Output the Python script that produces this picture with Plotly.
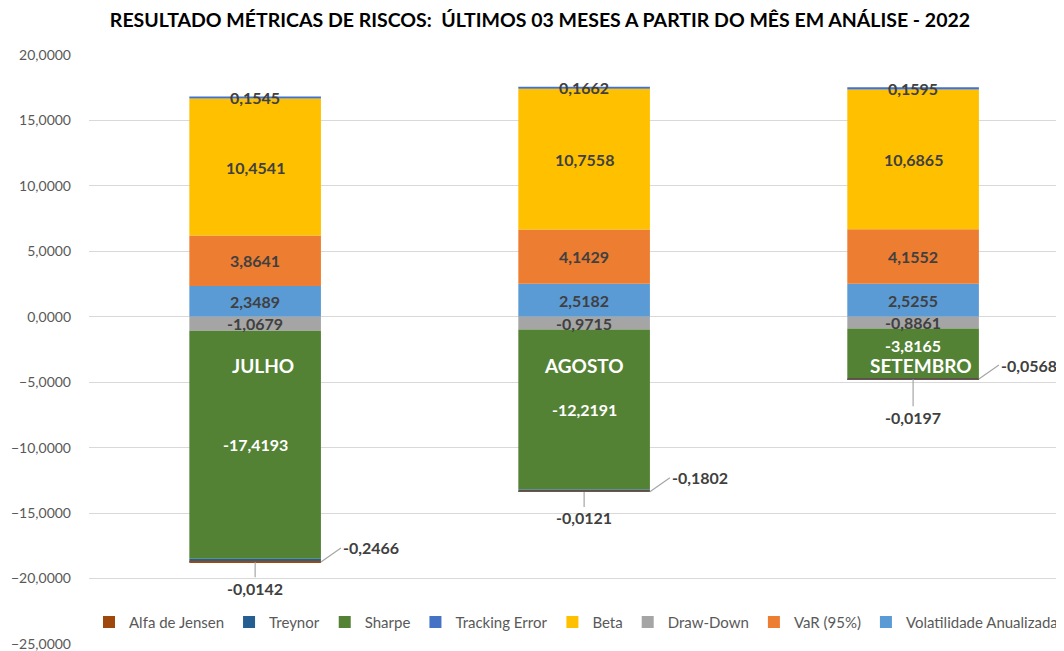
import plotly.graph_objects as go

# dados
meses = ["JULHO", "AGOSTO", "SETEMBRO"]
volatilidade = [2.3489, 2.5182, 2.5255]
var95 = [3.8641, 4.1429, 4.1552]
draw_down = [-1.0679, -0.9715, -0.8861]
beta = [10.4541, 10.7558, 10.6865]
tracking_error = [0.1545, 0.1662, 0.1595]
sharpe = [-17.4193, -12.2191, -3.8165]
treynor = [-0.2466, -0.1802, -0.0568]
alfa_jensen = [-0.0142, -0.0121, -0.0197]

y_ticks = [-25, -20, -15, -10, -5, 0, 5, 10, 15, 20]

# ordem de empilhamento (a legenda mostra a ordem inversa)
series = [
    ("Volatilidade Anualizada", volatilidade, "#5B9BD5"),
    ("VaR (95%)", var95, "#ED7D31"),
    ("Draw-Down", draw_down, "#A5A5A5"),
    ("Beta", beta, "#FFC000"),
    ("Tracking Error", tracking_error, "#4472C4"),
    ("Sharpe", sharpe, "#548235"),
    ("Treynor", treynor, "#255E91"),
    ("Alfa de Jensen", alfa_jensen, "#9E480E"),
]

FONT = "Lato, 'Open Sans', sans-serif"
DARK = "#404040"


def fmt(v):
    return f"{v:.4f}".replace(".", ",")


fig = go.Figure()
for name, vals, color in series:
    fig.add_trace(go.Bar(
        x=meses, y=vals, name=name,
        marker_color=color, marker_line_width=0,
        width=0.4,
        hovertemplate=name + ": %{y:.4f}<extra></extra>",
    ))

# rótulos de dados
annotations = []
pos_base = [0.0] * len(meses)
neg_base = [0.0] * len(meses)
for name, vals, color in series:
    for i, v in enumerate(vals):
        if v >= 0:
            mid = pos_base[i] + v / 2
            pos_base[i] += v
            edge = pos_base[i]
        else:
            mid = neg_base[i] + v / 2
            neg_base[i] += v
            edge = neg_base[i]
        lab = dict(text="<b>" + fmt(v) + "</b>", showarrow=False,
                   font=dict(family=FONT, size=16, color=DARK))
        if name == "Treynor":
            lab.update(x=i + 0.2, y=edge, showarrow=True, arrowhead=0,
                       arrowwidth=1.2, arrowcolor="#A6A6A6",
                       ax=20, ay=-14, xanchor="left")
        elif name == "Alfa de Jensen":
            lab.update(x=i, y=edge, showarrow=True, arrowhead=0,
                       arrowwidth=1.2, arrowcolor="#A6A6A6",
                       ax=0, ay=26 if i < 2 else 38)
        else:
            lab.update(x=i, y=mid)
            if name == "Sharpe":
                lab["font"]["color"] = "white"
                if meses[i] == "SETEMBRO":
                    lab["yshift"] = 8
        annotations.append(lab)

# nomes dos meses dentro das barras
for i, m in enumerate(meses):
    annotations.append(dict(
        x=i, y=-3.75, text="<b>" + m + "</b>", showarrow=False,
        xshift=8 if i != 1 else 0,
        font=dict(family=FONT, size=19, color="white"),
    ))

fig.update_layout(
    width=1064, height=651,
    barmode="relative",
    separators=",.",
    paper_bgcolor="white",
    plot_bgcolor="white",
    font=dict(family=FONT, size=15, color="#595959"),
    margin=dict(l=81, r=0, t=47, b=15),
    title=dict(
        text="<b>RESULTADO MÉTRICAS DE RISCOS:  ÚLTIMOS 03 MESES A PARTIR DO MÊS EM ANÁLISE - 2022</b>",
        x=0.5, xanchor="center", xref="container",
        y=0.982, yanchor="middle", yref="container",
        font=dict(family=FONT, size=19.5, color="#000000"),
    ),
    xaxis=dict(range=[-0.505, 2.483], showticklabels=False, showgrid=False,
               zeroline=False, showline=False),
    yaxis=dict(range=[-25, 20], tickvals=y_ticks, tickformat=".4f",
               showgrid=True, gridcolor="#D9D9D9", gridwidth=1,
               zeroline=True, zerolinecolor="#D9D9D9", zerolinewidth=1,
               showline=False, ticks="", ticklabelstandoff=17,
               tickfont=dict(family=FONT, size=14, color="#595959")),
    legend=dict(orientation="h", traceorder="reversed",
                x=0, xanchor="left",
                y=0.037, yanchor="middle",
                itemwidth=30,
                bgcolor="rgba(0,0,0,0)",
                font=dict(family=FONT, size=15, color="#595959")),
    annotations=annotations,
    showlegend=True,
)

fig.write_html("out.html")
